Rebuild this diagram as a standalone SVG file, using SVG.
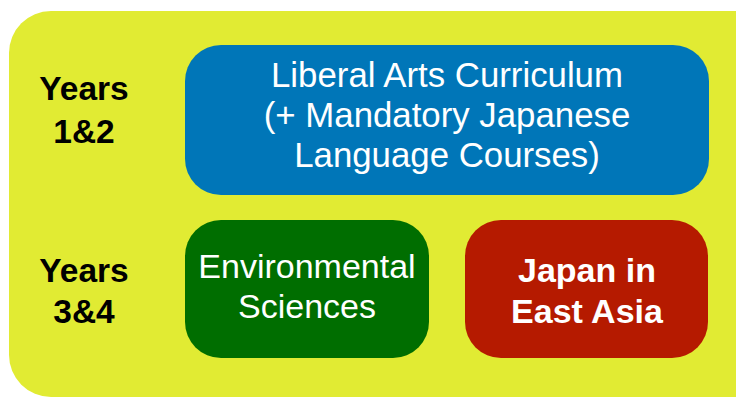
<svg xmlns="http://www.w3.org/2000/svg" width="736" height="400" viewBox="0 0 736 400">
<style>
.lbl{font-family:"Liberation Sans",Arial,sans-serif;font-weight:bold;font-size:33.5px;fill:#000;text-anchor:middle}
.wt{font-family:"Liberation Sans",Arial,sans-serif;font-size:34px;fill:#fff;text-anchor:middle}
.wb{font-family:"Liberation Sans",Arial,sans-serif;font-weight:bold;font-size:34px;fill:#fff;text-anchor:middle}
</style>
<rect width="736" height="400" fill="#fff"/>
<g id="background">
<rect x="9" y="11" width="770" height="386" rx="42" fill="#E1EB33"/>
</g>
<g id="years12">
<text class="lbl" x="84" y="100">Years</text>
<text class="lbl" x="84" y="143">1&amp;2</text>
</g>
<g id="years34">
<text class="lbl" x="84" y="282">Years</text>
<text class="lbl" x="84" y="323">3&amp;4</text>
</g>
<g id="liberal">
<rect x="185" y="45" width="524" height="150" rx="36" fill="#0076B8"/>
<text class="wt" x="447" y="87" style="font-size:34.8px">Liberal Arts Curriculum</text>
<text class="wt" x="447" y="127" style="font-size:34.8px">(+ Mandatory Japanese</text>
<text class="wt" x="447" y="167" style="font-size:34.8px">Language Courses)</text>
</g>
<g id="env">
<rect x="185" y="220" width="244" height="138" rx="36" fill="#006E00"/>
<text class="wt" x="307" y="278">Environmental</text>
<text class="wt" x="307" y="318">Sciences</text>
</g>
<g id="japan">
<rect x="465" y="220" width="243" height="138" rx="36" fill="#B51A00"/>
<text class="wb" x="587" y="282">Japan in</text>
<text class="wb" x="587" y="323">East Asia</text>
</g>
<g id="connectors"/>
</svg>
